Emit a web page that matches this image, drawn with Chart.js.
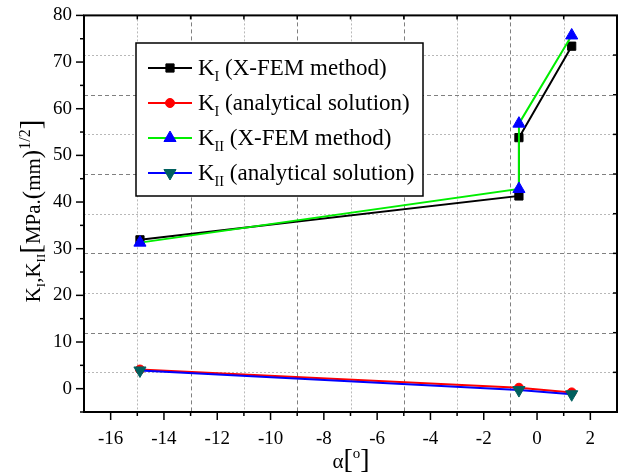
<!DOCTYPE html>
<html>
<head>
<meta charset="utf-8">
<script src="https://cdn.jsdelivr.net/npm/chart.js@4.4.1/dist/chart.umd.min.js"></script>
<style>
  html, body { margin: 0; padding: 0; background: #fff; }
  #wrap { width: 625px; height: 474px; }
</style>
</head>
<body>
<div id="wrap"><canvas id="c"></canvas></div>
<script>
// angle alpha (deg) of the X-FEM runs and the analytical runs
const xfemAlpha = [-14.9, -0.68, -0.68, 1.3];
const anaAlpha = [-14.9, -0.68, 1.3];

// stress intensity factors, MPa.(mm)^1/2
const kIxfem = [31.9, 41.3, 53.8, 73.4];
const kIIxfem = [31.3, 42.8, 56.8, 75.7];
const kIana = [4.1, 0.2, -0.8];
const kIIana = [3.9, -0.3, -1.2];

// the gray grid of the original plot does not sit on the labelled ticks
const gridAlpha = [-15, -13, -11, -9, -7, -5, -3, -1, 1];
const gridK = [3.5, 12, 20.5, 29, 37.5, 46, 54.5, 63, 71.5];

const SERIF = '"Liberation Serif", "Times New Roman", serif';

const pts = (xs, ys) => xs.map((x, i) => ({x, y: ys[i]}));

const series = [
  {label: 'KI (X-FEM method)', data: pts(xfemAlpha, kIxfem), line: '#000000',
   style: 'rect', radius: 5.8, fill: '#000000', rot: 0, order: 3,
   text: [['K', ''], ['I', 'sub'], [' (X-FEM method)', '']]},
  {label: 'KI (analytical solution)', data: pts(anaAlpha, kIana), line: '#ff0000',
   style: 'circle', radius: 4.5, fill: '#ff0000', rot: 0, order: 1,
   text: [['K', ''], ['I', 'sub'], [' (analytical solution)', '']]},
  {label: 'KII (X-FEM method)', data: pts(xfemAlpha, kIIxfem), line: '#00ee00',
   style: 'triangle', radius: 7, fill: '#0000ff', rot: 0, order: 2,
   text: [['K', ''], ['II', 'sub'], [' (X-FEM method)', '']]},
  {label: 'KII (analytical solution)', data: pts(anaAlpha, kIIana), line: '#0000ff',
   style: 'triangle', radius: 7, fill: '#00605f', rot: 180, order: 0,
   text: [['K', ''], ['II', 'sub'], [' (analytical solution)', '']]}
];

function gridStyle(ctx, dotted) {
  if (dotted) {
    ctx.strokeStyle = '#b8b8b8';
    ctx.setLineDash([2, 2]);
  } else {
    ctx.strokeStyle = '#808080';
    ctx.setLineDash([4, 3]);
  }
}

function seg(ctx, x1, y1, x2, y2) {
  ctx.beginPath();
  ctx.moveTo(x1, y1);
  ctx.lineTo(x2, y2);
  ctx.stroke();
}

// text made of normal / sub / sup pieces, drawn from (x, y) on the baseline
function richWidth(ctx, parts, size) {
  let w = 0;
  parts.forEach(p => {
    ctx.font = (p[2] || (p[1] ? size * 0.62 : size)) + 'px ' + SERIF;
    w += ctx.measureText(p[0]).width;
  });
  return w;
}
function drawRich(ctx, parts, x, y, size) {
  ctx.textBaseline = 'alphabetic';
  ctx.textAlign = 'left';
  parts.forEach(p => {
    const fs = p[2] || (p[1] ? size * 0.62 : size);
    ctx.font = fs + 'px ' + SERIF;
    let dy = 0;
    if (p[1] === 'sub') dy = size * 0.25;
    if (p[1] === 'sup') dy = -size * 0.5;
    ctx.fillText(p[0], x, y + dy);
    x += ctx.measureText(p[0]).width;
  });
}

const frame = {
  id: 'frame',
  beforeDatasetsDraw(chart) {
    const {ctx, chartArea: a, scales: {x, y}} = chart;
    ctx.save();
    ctx.lineWidth = 1;
    gridAlpha.forEach((v, i) => {
      const px = Math.round(x.getPixelForValue(v)) + 0.5;
      gridStyle(ctx, i % 2 === 0);
      seg(ctx, px, a.top, px, a.bottom);
    });
    gridK.forEach((v, i) => {
      const py = Math.round(y.getPixelForValue(v)) + 0.5;
      gridStyle(ctx, i % 2 === 0);
      seg(ctx, a.left, py, a.right, py);
    });
    ctx.restore();
  },
  afterDatasetsDraw(chart) {
    const {ctx, chartArea: a, scales: {x, y}} = chart;
    ctx.save();
    ctx.setLineDash([]);
    ctx.strokeStyle = '#000';

    // ticks
    ctx.lineWidth = 1.5;
    for (let v = -16; v <= 2; v++) {
      const px = x.getPixelForValue(v);
      seg(ctx, px, a.bottom, px, a.bottom + (v % 2 === 0 ? 8 : 4));
    }
    for (let v = -5; v <= 80; v += 5) {
      const py = y.getPixelForValue(v);
      seg(ctx, a.left, py, a.left - (v % 10 === 0 ? 8 : 4), py);
    }
    gridAlpha.forEach(v => {
      const px = x.getPixelForValue(v);
      seg(ctx, px, a.top, px, a.top + 4);
    });
    gridK.forEach(v => {
      const py = y.getPixelForValue(v);
      seg(ctx, a.right, py, a.right - 4, py);
    });

    // frame
    ctx.lineWidth = 2;
    ctx.strokeRect(a.left, a.top, a.right - a.left, a.bottom - a.top);

    // legend
    const bx = 136, by = 43, bw = 287, bh = 153;
    ctx.fillStyle = '#fff';
    ctx.fillRect(bx, by, bw, bh);
    ctx.lineWidth = 1.5;
    ctx.strokeRect(bx, by, bw, bh);
    series.forEach((s, i) => {
      const ry = 68 + i * 35;
      ctx.strokeStyle = s.line;
      ctx.lineWidth = 2;
      seg(ctx, 148, ry, 192, ry);
      ctx.fillStyle = s.fill;
      ctx.strokeStyle = s.fill;
      ctx.lineWidth = 1;
      Chart.helpers.drawPoint(ctx, {pointStyle: s.style, radius: s.radius, rotation: s.rot, borderWidth: 1}, 170, ry);
      ctx.fillStyle = '#000';
      drawRich(ctx, s.text, 198, ry + 7, 23);
    });

    // axis titles
    ctx.fillStyle = '#000';
    const yTitle = [['K', ''], ['I', 'sub'], [',', ''], ['K', ''], ['II', 'sub'], ['[', '', 29],
      ['MPa.', ''], ['(', '', 25], ['mm', ''], [')', '', 25], ['1/2', 'sup', 16], [']', '', 29]];
    ctx.save();
    ctx.translate(40, 211);
    ctx.rotate(-Math.PI / 2);
    drawRich(ctx, yTitle, -richWidth(ctx, yTitle, 21) / 2, 0, 21);
    ctx.restore();

    const xTitle = [['α', ''], ['[', '', 28], ['o', 'sup', 15], [']', '', 28]];
    drawRich(ctx, xTitle, 351 - richWidth(ctx, xTitle, 21) / 2, 468, 21);
    ctx.restore();
  }
};

const chart = new Chart(document.getElementById('c'), {
  type: 'line',
  data: {
    datasets: series.map(s => ({
      label: s.label,
      data: s.data,
      order: s.order,
      borderColor: s.line,
      borderWidth: 2,
      pointStyle: s.style,
      pointRadius: s.radius,
      pointRotation: s.rot,
      pointBackgroundColor: s.fill,
      pointBorderColor: s.fill,
      pointBorderWidth: 1,
      tension: 0
    }))
  },
  options: {
    responsive: true,
    maintainAspectRatio: false,
    animation: false,
    layout: {padding: {top: 15, right: 3, left: 0, bottom: 0}},
    plugins: {legend: {display: false}, tooltip: {enabled: false}},
    scales: {
      x: {
        type: 'linear', min: -17, max: 3,
        afterFit: s => { s.height = 62; },
        grid: {display: false, drawTicks: true, tickLength: 8},
        border: {display: false},
        ticks: {
          stepSize: 1, autoSkip: false, maxRotation: 0, padding: 8,
          color: '#000', font: {family: SERIF, size: 19},
          callback: v => (v % 2 === 0 ? String(v) : '')
        }
      },
      y: {
        type: 'linear', min: -5, max: 80,
        afterFit: s => { s.width = 84; },
        grid: {display: false, drawTicks: true, tickLength: 8},
        border: {display: false},
        ticks: {
          stepSize: 5, autoSkip: false, padding: 4,
          color: '#000', font: {family: SERIF, size: 19},
          callback: v => (v % 10 === 0 ? String(v) : '')
        }
      }
    }
  },
  plugins: [frame]
});
</script>
</body>
</html>
